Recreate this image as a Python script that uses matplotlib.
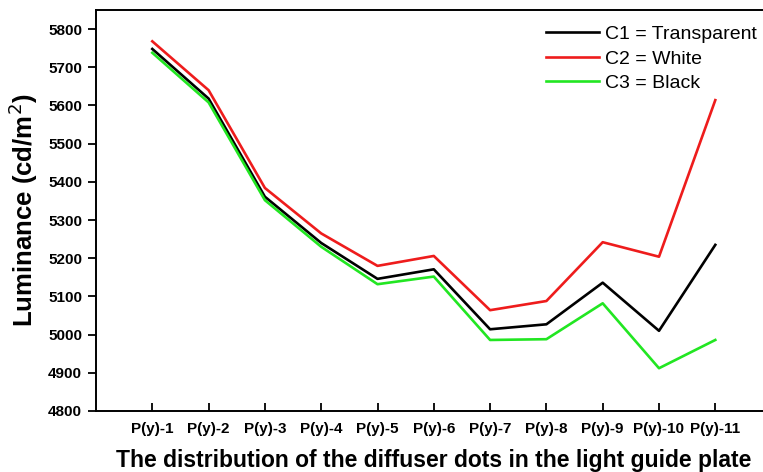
import matplotlib

matplotlib.use("Agg")

import matplotlib.pyplot as plt

plt.rcParams["font.family"] = ["Liberation Sans", "DejaVu Sans"]

positions = ["P(y)-1", "P(y)-2", "P(y)-3", "P(y)-4", "P(y)-5", "P(y)-6",
             "P(y)-7", "P(y)-8", "P(y)-9", "P(y)-10", "P(y)-11"]
c1_transparent = [5748, 5618, 5361, 5240, 5146, 5171, 5014, 5027, 5136, 5010, 5235]
c2_white = [5768, 5640, 5384, 5265, 5180, 5206, 5064, 5088, 5242, 5204, 5614]
c3_black = [5738, 5608, 5352, 5230, 5132, 5152, 4986, 4988, 5082, 4912, 4986]
y_ticks = list(range(4800, 5801, 100))

fig = plt.figure(figsize=(7.63, 4.72), dpi=100)
# right spine sits just past the image edge in the original
ax = fig.add_axes([96 / 763, 61 / 472, 675.6 / 763, 401 / 472])

x = range(1, len(positions) + 1)
ax.plot(x, c1_transparent, color="black", lw=1.9, label="C1 = Transparent")
ax.plot(x, c2_white, color="#ee1c1c", lw=1.9, label="C2 = White")
ax.plot(x, c3_black, color="#22e622", lw=1.9, label="C3 = Black")

ax.set_xlim(0, 12)
ax.set_ylim(4800, 5850)
ax.set_xticks(list(x))
ax.set_xticklabels(positions, fontsize=11, fontweight="bold")
ax.set_yticks(y_ticks)
ax.set_yticklabels([str(v) for v in y_ticks], fontsize=11, fontweight="bold")
ax.tick_params(axis="x", direction="in", length=6, width=1.3, pad=8)
ax.tick_params(axis="y", direction="out", length=6, width=1.3, pad=4)
for s in ax.spines.values():
    s.set_linewidth(1.4)

ax.set_xlabel("The distribution of the diffuser dots in the light guide plate",
              fontsize=16.5, fontweight="bold", labelpad=9)
ax.set_ylabel("Luminance (cd/m$^2$)", fontsize=18.5, fontweight="bold", labelpad=6)

ax.legend(loc="upper right", bbox_to_anchor=(0.995, 0.99), frameon=False,
          fontsize=14, handlelength=2.7, handletextpad=0.3, labelspacing=0.35,
          borderaxespad=0.2)

fig.savefig("out.png", dpi=100)
